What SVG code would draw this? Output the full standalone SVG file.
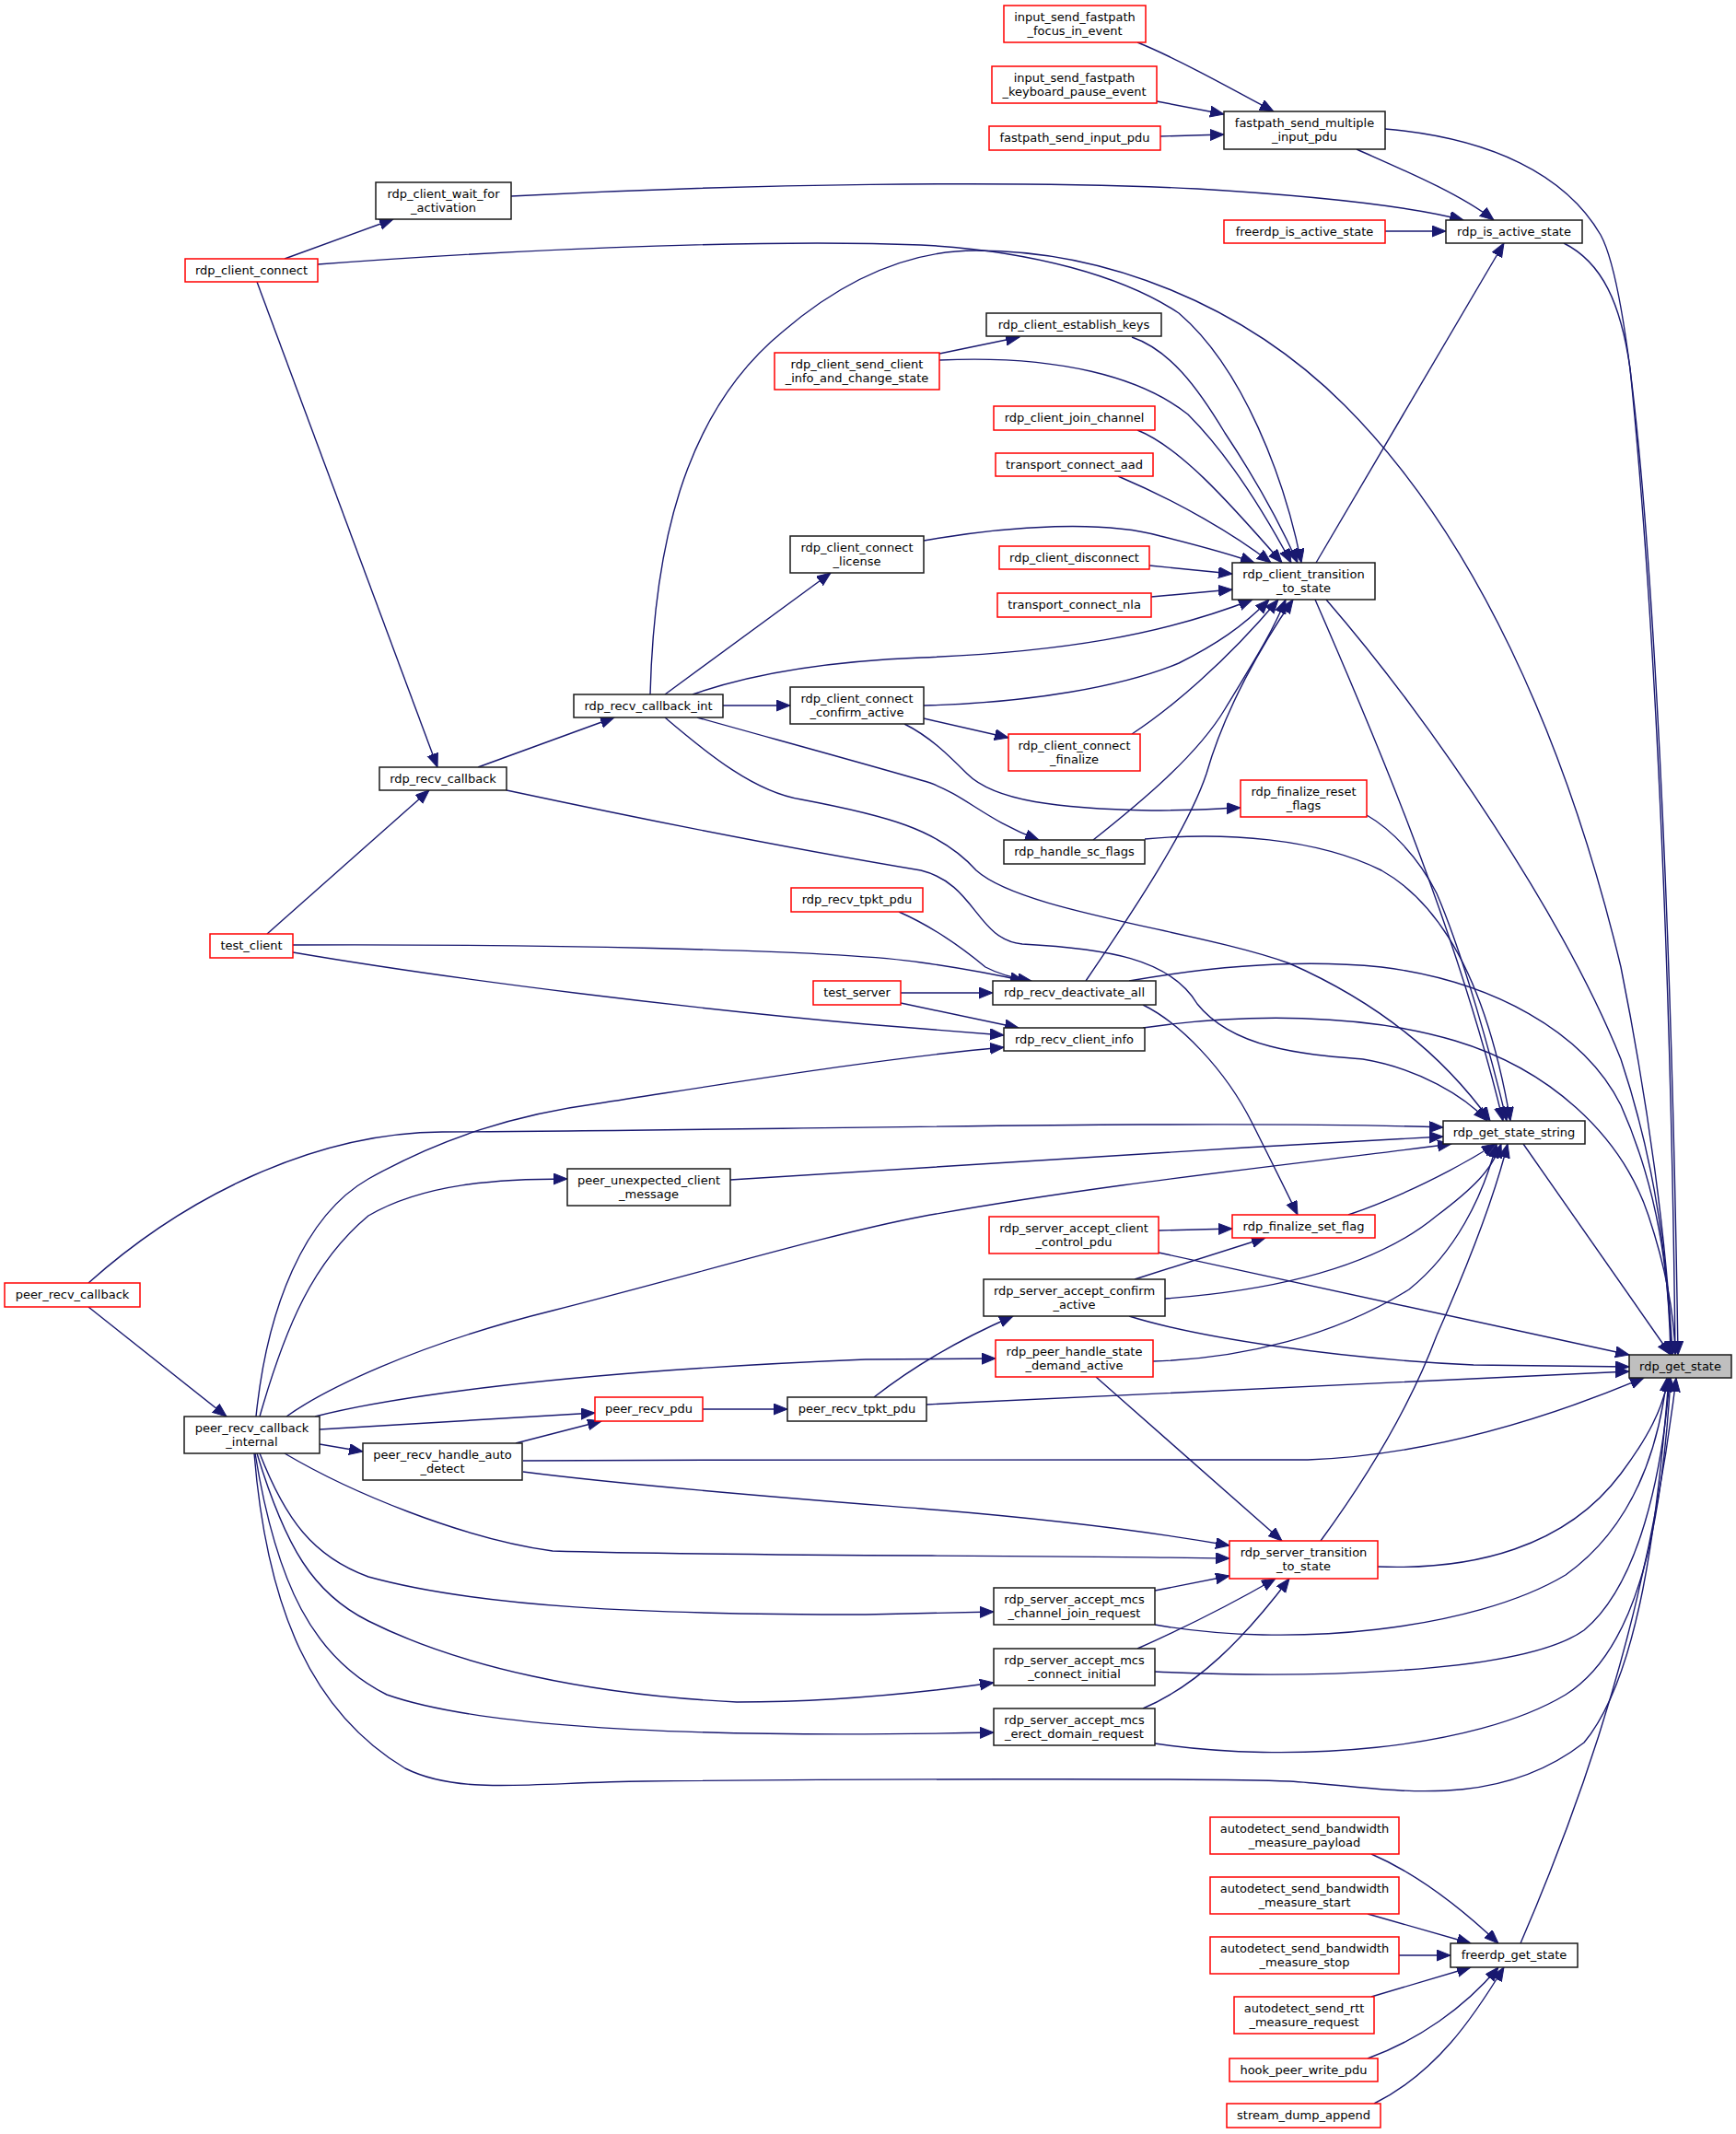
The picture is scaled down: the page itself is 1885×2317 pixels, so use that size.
<svg xmlns="http://www.w3.org/2000/svg" width="1885" height="2317" viewBox="0 0 1885 2317">
<defs>
<style>
.n rect{fill:#ffffff;stroke:#1a1a1a;stroke-width:1.5}
.r rect{fill:#ffffff;stroke:#ff0000;stroke-width:1.5}
.root rect{fill:#bfbfbf;stroke:#1a1a1a;stroke-width:1.5}
text{font-family:"DejaVu Sans","Liberation Sans",Arial,sans-serif;font-size:13px;text-anchor:middle;fill:#000000}
#edges path{fill:none;stroke:#191970;stroke-width:1.4;marker-end:url(#a)}
</style>
<marker id="a" markerWidth="17" markerHeight="13" refX="15" refY="6" orient="auto" markerUnits="userSpaceOnUse"><path d="M0,0 L15,6 L0,12 z" fill="#191970" stroke="#191970" stroke-width="1"/></marker>
</defs>
<rect width="1885" height="2317" fill="#ffffff"/>
<g id="edges">
<path d="M1235,46 C1275,62 1335,95 1383,121"/>
<path d="M1256,110 L1329,124"/>
<path d="M1260,148 L1329,146"/>
<path d="M1504,140 C1620,150 1700,190 1738,255 C1790,350 1815,1000 1822,1471"/>
<path d="M1473,162 C1520,183 1585,210 1622,239"/>
<path d="M555,213 C800,200 1100,195 1300,205 C1450,214 1535,225 1589,239"/>
<path d="M1504,251 L1570,251"/>
<path d="M1698,264 C1740,285 1760,330 1770,400 C1800,700 1815,1100 1819,1471"/>
<path d="M309,281 L427,238"/>
<path d="M345,287 C600,268 850,260 1000,266 C1120,272 1220,300 1280,340 C1350,400 1395,520 1413,611"/>
<path d="M279,306 L475,833"/>
<path d="M706,754 C710,600 740,450 850,360 C920,300 990,272 1060,272 C1200,272 1350,330 1460,440 C1600,580 1700,800 1760,1050 C1790,1200 1810,1350 1816,1471"/>
<path d="M1229,366 C1270,380 1300,420 1330,470 C1370,530 1395,580 1409,611"/>
<path d="M1020,384 L1107,366"/>
<path d="M1020,391 C1150,385 1240,410 1290,450 C1340,500 1380,570 1402,611"/>
<path d="M1235,467 C1280,485 1330,540 1392,611"/>
<path d="M1214,517 C1280,545 1340,580 1380,611"/>
<path d="M1003,587 C1100,570 1200,565 1260,582 C1300,592 1340,603 1362,611"/>
<path d="M1248,614 L1338,623"/>
<path d="M1250,648 L1338,640"/>
<path d="M1429,611 L1633,264"/>
<path d="M1428,651 C1480,770 1580,1000 1632,1217"/>
<path d="M1440,651 C1560,790 1700,1000 1760,1150 C1800,1270 1812,1380 1814,1471"/>
<path d="M752,754 C820,730 900,718 1000,714 C1150,708 1260,690 1360,651"/>
<path d="M722,754 L902,622"/>
<path d="M785,766 L858,766"/>
<path d="M757,779 C850,805 960,835 1010,850 C1050,865 1070,890 1128,912"/>
<path d="M722,779 C770,820 820,860 870,868 C960,885 1020,900 1060,945 C1110,990 1300,1010 1400,1046 C1500,1090 1570,1150 1618,1217"/>
<path d="M519,833 L667,779"/>
<path d="M550,858 C700,890 850,920 1000,945 C1060,960 1060,1020 1110,1025 C1200,1030 1270,1040 1300,1090 C1340,1140 1420,1145 1480,1150 C1540,1160 1590,1190 1615,1217"/>
<path d="M1003,766 C1120,763 1220,745 1280,720 C1320,700 1350,680 1378,651"/>
<path d="M1003,780 L1095,801"/>
<path d="M982,786 C1010,800 1030,820 1050,840 C1080,870 1150,878 1250,880 C1290,880 1320,878 1347,877"/>
<path d="M1229,797 C1270,770 1330,720 1388,651"/>
<path d="M1484,885 C1510,900 1540,930 1560,970 C1590,1040 1620,1150 1636,1217"/>
<path d="M1187,912 C1240,870 1300,820 1330,770 C1360,720 1380,690 1396,651"/>
<path d="M1243,911 C1330,903 1430,910 1500,945 C1580,990 1620,1100 1640,1217"/>
<path d="M976,990 C1010,1005 1040,1025 1070,1050 C1085,1058 1100,1062 1120,1065"/>
<path d="M290,1014 L466,858"/>
<path d="M318,1026 C550,1025 900,1030 1000,1045 C1050,1052 1080,1058 1112,1065"/>
<path d="M318,1034 C500,1065 750,1095 940,1112 L1090,1124"/>
<path d="M978,1078 L1078,1078"/>
<path d="M978,1089 L1106,1116"/>
<path d="M1179,1065 C1230,990 1290,900 1310,840 C1330,770 1370,700 1404,651"/>
<path d="M1226,1065 C1300,1052 1400,1040 1500,1050 C1620,1065 1720,1120 1760,1200 C1800,1290 1812,1380 1815,1471"/>
<path d="M1241,1091 C1280,1110 1330,1160 1360,1220 C1385,1270 1400,1300 1409,1319"/>
<path d="M1241,1116 C1350,1100 1480,1100 1580,1130 C1680,1160 1760,1230 1790,1320 C1810,1380 1818,1430 1819,1471"/>
<path d="M1654,1242 L1814,1471"/>
<path d="M793,1281 C1000,1268 1300,1248 1567,1234"/>
<path d="M96,1393 C200,1300 340,1230 480,1229 C800,1228 1300,1215 1567,1224"/>
<path d="M96,1419 L246,1538"/>
<path d="M1258,1336 L1338,1334"/>
<path d="M1258,1360 L1769,1471"/>
<path d="M1464,1319 C1520,1300 1580,1270 1624,1242"/>
<path d="M1232,1389 L1374,1344"/>
<path d="M1265,1410 C1400,1400 1500,1370 1560,1320 C1600,1290 1620,1270 1630,1242"/>
<path d="M1226,1429 C1300,1452 1450,1475 1600,1482 L1769,1484"/>
<path d="M1252,1478 C1350,1475 1450,1450 1530,1400 C1580,1360 1610,1300 1625,1242"/>
<path d="M1190,1495 L1392,1673"/>
<path d="M763,1530 L855,1530"/>
<path d="M949,1517 C990,1485 1040,1455 1100,1429"/>
<path d="M1006,1525 C1300,1510 1600,1495 1769,1489"/>
<path d="M278,1538 C290,1420 330,1320 400,1280 C480,1235 560,1210 650,1198 C800,1175 950,1150 1090,1137"/>
<path d="M282,1538 C310,1440 340,1370 400,1320 C460,1285 540,1280 616,1280"/>
<path d="M311,1538 C350,1510 450,1460 600,1423 C750,1385 900,1340 1000,1321 C1200,1285 1400,1265 1576,1242"/>
<path d="M342,1538 C420,1518 600,1490 940,1476 L1081,1475"/>
<path d="M347,1552 L646,1534"/>
<path d="M347,1568 L394,1576"/>
<path d="M560,1567 L653,1543"/>
<path d="M568,1586 C900,1584 1300,1586 1420,1585 C1550,1580 1680,1540 1785,1496"/>
<path d="M568,1598 C700,1615 900,1630 1000,1638 C1150,1650 1260,1665 1335,1678"/>
<path d="M309,1578 C380,1620 500,1670 600,1684 C800,1690 1100,1688 1335,1692"/>
<path d="M282,1578 C310,1650 340,1690 400,1712 C520,1745 700,1753 940,1753 L1079,1750"/>
<path d="M279,1578 C310,1680 340,1730 400,1760 C500,1810 640,1840 800,1848 C900,1848 1000,1838 1079,1827"/>
<path d="M277,1578 C300,1720 340,1800 420,1840 C520,1875 750,1888 1079,1881"/>
<path d="M276,1578 C290,1750 340,1860 440,1920 C500,1950 580,1935 700,1934 C900,1932 1300,1930 1400,1934 C1500,1940 1620,1970 1720,1892 C1780,1820 1800,1650 1812,1496"/>
<path d="M1434,1673 C1480,1610 1530,1530 1560,1450 C1600,1360 1625,1290 1637,1242"/>
<path d="M1496,1701 C1600,1705 1700,1680 1760,1600 C1790,1560 1805,1530 1812,1496"/>
<path d="M1254,1727 L1335,1711"/>
<path d="M1254,1764 C1400,1790 1600,1770 1700,1710 C1770,1660 1800,1580 1810,1496"/>
<path d="M1235,1790 C1280,1770 1340,1740 1385,1714"/>
<path d="M1254,1815 C1400,1822 1650,1820 1720,1770 C1780,1720 1805,1600 1813,1496"/>
<path d="M1241,1855 C1300,1830 1350,1780 1400,1714"/>
<path d="M1254,1893 C1400,1915 1600,1900 1700,1840 C1780,1790 1805,1650 1814,1496"/>
<path d="M1651,2110 C1720,1950 1790,1750 1820,1496"/>
<path d="M1489,2013 C1540,2035 1590,2075 1627,2110"/>
<path d="M1485,2078 L1597,2110"/>
<path d="M1519,2123 L1575,2123"/>
<path d="M1489,2168 L1597,2136"/>
<path d="M1485,2235 C1540,2215 1590,2180 1627,2136"/>
<path d="M1492,2284 C1560,2250 1600,2190 1633,2136"/>
</g>
<g id="n1" class="r"><rect x="1090" y="6" width="154" height="40"/><text x="1167" y="23">input_send_fastpath</text><text x="1167" y="38">_focus_in_event</text></g>
<g id="n2" class="r"><rect x="1077" y="72" width="179" height="40"/><text x="1166.5" y="89">input_send_fastpath</text><text x="1166.5" y="104">_keyboard_pause_event</text></g>
<g id="n3" class="r"><rect x="1074" y="137" width="186" height="26"/><text x="1167" y="154">fastpath_send_input_pdu</text></g>
<g id="n4" class="n"><rect x="1329" y="121" width="175" height="41"/><text x="1416.5" y="138">fastpath_send_multiple</text><text x="1416.5" y="153">_input_pdu</text></g>
<g id="n5" class="n"><rect x="408" y="198" width="147" height="40"/><text x="481.5" y="215">rdp_client_wait_for</text><text x="481.5" y="230">_activation</text></g>
<g id="n6" class="r"><rect x="1329" y="239" width="175" height="25"/><text x="1416.5" y="256">freerdp_is_active_state</text></g>
<g id="n7" class="n"><rect x="1570" y="239" width="148" height="25"/><text x="1644" y="256">rdp_is_active_state</text></g>
<g id="n8" class="r"><rect x="201" y="281" width="144" height="25"/><text x="273" y="298">rdp_client_connect</text></g>
<g id="n9" class="n"><rect x="1071" y="340" width="190" height="25"/><text x="1166" y="357">rdp_client_establish_keys</text></g>
<g id="n10" class="r"><rect x="841" y="383" width="179" height="40"/><text x="930.5" y="400">rdp_client_send_client</text><text x="930.5" y="415">_info_and_change_state</text></g>
<g id="n11" class="r"><rect x="1079" y="441" width="175" height="26"/><text x="1166.5" y="458">rdp_client_join_channel</text></g>
<g id="n12" class="r"><rect x="1081" y="492" width="171" height="25"/><text x="1166.5" y="509">transport_connect_aad</text></g>
<g id="n13" class="n"><rect x="858" y="582" width="145" height="40"/><text x="930.5" y="599">rdp_client_connect</text><text x="930.5" y="614">_license</text></g>
<g id="n14" class="r"><rect x="1085" y="593" width="163" height="25"/><text x="1166.5" y="610">rdp_client_disconnect</text></g>
<g id="n15" class="n"><rect x="1338" y="611" width="155" height="40"/><text x="1415.5" y="628">rdp_client_transition</text><text x="1415.5" y="643">_to_state</text></g>
<g id="n16" class="r"><rect x="1083" y="644" width="167" height="26"/><text x="1166.5" y="661">transport_connect_nla</text></g>
<g id="n17" class="n"><rect x="623" y="754" width="162" height="25"/><text x="704" y="771">rdp_recv_callback_int</text></g>
<g id="n18" class="n"><rect x="858" y="746" width="145" height="40"/><text x="930.5" y="763">rdp_client_connect</text><text x="930.5" y="778">_confirm_active</text></g>
<g id="n19" class="r"><rect x="1095" y="797" width="143" height="40"/><text x="1166.5" y="814">rdp_client_connect</text><text x="1166.5" y="829">_finalize</text></g>
<g id="n20" class="n"><rect x="412" y="833" width="138" height="25"/><text x="481" y="850">rdp_recv_callback</text></g>
<g id="n21" class="r"><rect x="1347" y="847" width="137" height="40"/><text x="1415.5" y="864">rdp_finalize_reset</text><text x="1415.5" y="879">_flags</text></g>
<g id="n22" class="n"><rect x="1090" y="912" width="153" height="26"/><text x="1166.5" y="929">rdp_handle_sc_flags</text></g>
<g id="n23" class="r"><rect x="859" y="964" width="143" height="26"/><text x="930.5" y="981">rdp_recv_tpkt_pdu</text></g>
<g id="n24" class="r"><rect x="228" y="1014" width="90" height="26"/><text x="273" y="1031">test_client</text></g>
<g id="n25" class="r"><rect x="883" y="1065" width="95" height="26"/><text x="930.5" y="1082">test_server</text></g>
<g id="n26" class="n"><rect x="1078" y="1065" width="177" height="26"/><text x="1166.5" y="1082">rdp_recv_deactivate_all</text></g>
<g id="n27" class="n"><rect x="1090" y="1116" width="153" height="25"/><text x="1166.5" y="1133">rdp_recv_client_info</text></g>
<g id="n28" class="n"><rect x="1567" y="1217" width="154" height="25"/><text x="1644" y="1234">rdp_get_state_string</text></g>
<g id="n29" class="n"><rect x="616" y="1269" width="177" height="40"/><text x="704.5" y="1286">peer_unexpected_client</text><text x="704.5" y="1301">_message</text></g>
<g id="n30" class="r"><rect x="5" y="1393" width="147" height="26"/><text x="78.5" y="1410">peer_recv_callback</text></g>
<g id="n31" class="r"><rect x="1074" y="1321" width="184" height="40"/><text x="1166" y="1338">rdp_server_accept_client</text><text x="1166" y="1353">_control_pdu</text></g>
<g id="n32" class="r"><rect x="1338" y="1319" width="155" height="25"/><text x="1415.5" y="1336">rdp_finalize_set_flag</text></g>
<g id="n33" class="n"><rect x="1068" y="1389" width="197" height="40"/><text x="1166.5" y="1406">rdp_server_accept_confirm</text><text x="1166.5" y="1421">_active</text></g>
<g id="n34" class="r"><rect x="1081" y="1455" width="171" height="40"/><text x="1166.5" y="1472">rdp_peer_handle_state</text><text x="1166.5" y="1487">_demand_active</text></g>
<g id="n35" class="root"><rect x="1769" y="1471" width="111" height="25"/><text x="1824.5" y="1488">rdp_get_state</text></g>
<g id="n36" class="r"><rect x="646" y="1517" width="117" height="26"/><text x="704.5" y="1534">peer_recv_pdu</text></g>
<g id="n37" class="n"><rect x="855" y="1517" width="151" height="26"/><text x="930.5" y="1534">peer_recv_tpkt_pdu</text></g>
<g id="n38" class="n"><rect x="200" y="1538" width="147" height="40"/><text x="273.5" y="1555">peer_recv_callback</text><text x="273.5" y="1570">_internal</text></g>
<g id="n39" class="n"><rect x="394" y="1567" width="173" height="40"/><text x="480.5" y="1584">peer_recv_handle_auto</text><text x="480.5" y="1599">_detect</text></g>
<g id="n40" class="r"><rect x="1335" y="1673" width="161" height="41"/><text x="1415.5" y="1690">rdp_server_transition</text><text x="1415.5" y="1705">_to_state</text></g>
<g id="n41" class="n"><rect x="1079" y="1724" width="175" height="40"/><text x="1166.5" y="1741">rdp_server_accept_mcs</text><text x="1166.5" y="1756">_channel_join_request</text></g>
<g id="n42" class="n"><rect x="1079" y="1790" width="175" height="40"/><text x="1166.5" y="1807">rdp_server_accept_mcs</text><text x="1166.5" y="1822">_connect_initial</text></g>
<g id="n43" class="n"><rect x="1079" y="1855" width="175" height="40"/><text x="1166.5" y="1872">rdp_server_accept_mcs</text><text x="1166.5" y="1887">_erect_domain_request</text></g>
<g id="n44" class="r"><rect x="1314" y="1973" width="205" height="40"/><text x="1416.5" y="1990">autodetect_send_bandwidth</text><text x="1416.5" y="2005">_measure_payload</text></g>
<g id="n45" class="r"><rect x="1314" y="2038" width="205" height="40"/><text x="1416.5" y="2055">autodetect_send_bandwidth</text><text x="1416.5" y="2070">_measure_start</text></g>
<g id="n46" class="r"><rect x="1314" y="2103" width="205" height="40"/><text x="1416.5" y="2120">autodetect_send_bandwidth</text><text x="1416.5" y="2135">_measure_stop</text></g>
<g id="n47" class="n"><rect x="1575" y="2110" width="138" height="26"/><text x="1644" y="2127">freerdp_get_state</text></g>
<g id="n48" class="r"><rect x="1340" y="2168" width="152" height="40"/><text x="1416" y="2185">autodetect_send_rtt</text><text x="1416" y="2200">_measure_request</text></g>
<g id="n49" class="r"><rect x="1335" y="2235" width="161" height="25"/><text x="1415.5" y="2252">hook_peer_write_pdu</text></g>
<g id="n50" class="r"><rect x="1332" y="2284" width="167" height="26"/><text x="1415.5" y="2301">stream_dump_append</text></g>
</svg>
